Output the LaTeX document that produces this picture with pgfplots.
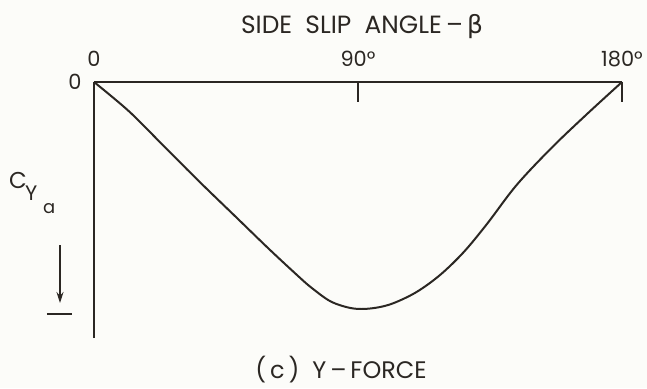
\documentclass[border=0pt]{standalone}
\usepackage{pgfplots}
\pgfplotsset{compat=1.18}
\usetikzlibrary{arrows.meta}
\usepackage{fontspec}
\setmainfont{Poppins}
\newfontfamily\greekfont{DejaVu Sans}
\definecolor{ink}{HTML}{2B2723}
\definecolor{paper}{HTML}{FCFCF9}

\begin{document}
\begin{tikzpicture}[x=1bp,y=1bp]
  % page frame: axis box lower-left corner sits at (0,0)
  \path[use as bounding box, fill=paper] (-94,-50) rectangle (553,338);

  \begin{axis}[
    scale only axis,
    width=528bp, height=256bp,
    xmin=0, xmax=180,
    ymin=-1.128, ymax=0,
    axis x line=top,
    axis y line=left,
    axis line style={-, ink, line width=1.3pt},
    xtick={0,90,180},
    xticklabels={0,90°,180°},
    tick align=inside,
    major tick length=20bp,
    x tick style={ink, line width=1.3pt},
    xticklabel style={font=\fontsize{21}{24}\selectfont, text=ink, anchor=base, yshift=15bp},
    ytick={0},
    yticklabels={0},
    y tick style={draw=none},
    yticklabel style={font=\fontsize{21}{24}\selectfont, text=ink, anchor=east, xshift=-9bp},
    clip=false,
  ]
    % side force coefficient versus side slip angle
    \addplot[ink, line width=2pt, smooth, tension=0.55] coordinates {
      (0,0) (12,-0.130) (24,-0.285) (36,-0.440) (48,-0.590)
      (60,-0.740) (70,-0.860) (74,-0.905) (80,-0.962) (85,-0.988) (90,-1.0)
      (96,-0.995) (102,-0.975) (110,-0.925) (118,-0.850) (126,-0.750)
      (134,-0.625) (144,-0.455) (156,-0.290) (168,-0.142) (180,0)
    };
  \end{axis}

  % title above the angle scale
  \node[text=ink, font=\fontsize{25}{29}\selectfont, anchor=base] at (268,305)
    {SIDE\ \ SLIP\ \ ANGLE\,--\,{\greekfont β}};

  % coefficient label with downward arrow
  \node[text=ink, font=\fontsize{23}{26}\selectfont, anchor=base west, inner sep=0pt] at (-85,150) {C};
  \node[text=ink, font=\fontsize{21}{24}\selectfont, anchor=base west, inner sep=0pt] at (-69,138) {Y};
  \node[text=ink, font=\fontsize{18}{20}\selectfont, anchor=base west, inner sep=0pt] at (-51,125) {a};
  \draw[ink, line width=1.2pt, -{Stealth[length=11bp,width=7bp]}] (-34,93) -- (-34,35);
  \draw[ink, line width=1.3pt] (-47,24) -- (-22,24);

  % caption
  \node[text=ink, font=\fontsize{24}{27}\selectfont, anchor=base] at (247,-40) {(\,c\,)\ \ Y\,--\,FORCE};
\end{tikzpicture}
\end{document}
